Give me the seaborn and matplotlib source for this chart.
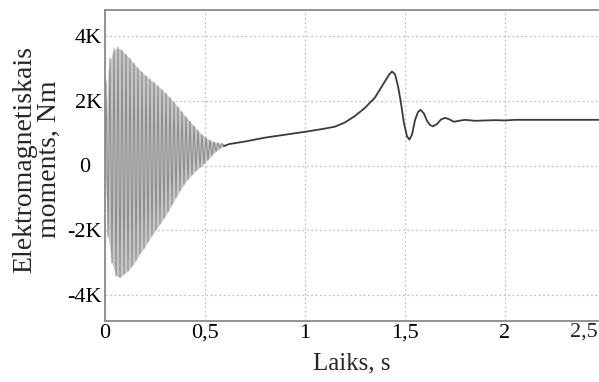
import numpy as np
import pandas as pd
import matplotlib
matplotlib.use("Agg")
import matplotlib.pyplot as plt
import matplotlib.transforms as mtransforms
import seaborn as sns

# Start-up transient: torque peaks (kNm) of the 50 Hz oscillation
upper_peaks = [2.6, 3.3, 3.6, 3.65, 3.55, 3.42, 3.3, 3.15, 3.0, 2.88,
               2.76, 2.66, 2.56, 2.45, 2.34, 2.22, 2.1, 1.95, 1.8, 1.65,
               1.5, 1.36, 1.22, 1.08, 0.95, 0.86, 0.78, 0.73, 0.7, 0.68]
lower_peaks = [-2.2, -3.0, -3.4, -3.45, -3.35, -3.25, -3.1, -2.92, -2.72, -2.55,
               -2.35, -2.15, -1.98, -1.8, -1.62, -1.42, -1.2, -0.98, -0.77, -0.58,
               -0.42, -0.28, -0.15, -0.05, 0.05, 0.18, 0.32, 0.44, 0.53, 0.6]
period = 0.02

# Acceleration and settling part (s, kNm)
t_run = [0.62, 0.7, 0.8, 0.9, 1.0, 1.1, 1.15, 1.2, 1.25, 1.3, 1.35, 1.39, 1.42,
         1.435, 1.45, 1.465, 1.478, 1.495, 1.51, 1.522, 1.535, 1.55, 1.565,
         1.578, 1.595, 1.61, 1.625, 1.64, 1.66, 1.68, 1.70, 1.72, 1.745, 1.77,
         1.8, 1.85, 1.9, 1.95, 2.0, 2.05, 2.47]
m_run = [0.66, 0.74, 0.86, 0.95, 1.04, 1.14, 1.2, 1.33, 1.53, 1.78, 2.1, 2.5, 2.8,
         2.9, 2.82, 2.45, 2.0, 1.3, 0.9, 0.8, 0.95, 1.4, 1.65,
         1.72, 1.6, 1.38, 1.25, 1.21, 1.28, 1.42, 1.47, 1.43, 1.35, 1.38,
         1.41, 1.38, 1.39, 1.40, 1.39, 1.41, 1.41]

x_ticks = [0, 0.5, 1, 1.5, 2]
x_labels = ["0", "0,5", "1", "1,5", "2"]
y_ticks = [-4000, -2000, 0, 2000, 4000]
y_labels = ["-4K", "-2K", "0", "2K", "4K"]

# Oscillating segment: alternate peaks and troughs
t_hi = [period * k + period / 4 for k in range(len(upper_peaks))]
t_lo = [period * k + 3 * period / 4 for k in range(len(lower_peaks))]
t_osc = [0.0]
m_osc = [0.0]
for th, hi, tl, lo in zip(t_hi, upper_peaks, t_lo, lower_peaks):
    t_osc += [th, tl]
    m_osc += [hi, lo]

osc = pd.DataFrame({"t": t_osc, "m": np.array(m_osc) * 1000})
run = pd.DataFrame({"t": [t_osc[-1]] + t_run,
                    "m": np.array([m_osc[-1]] + m_run) * 1000})

sns.set_style("white")
plt.rcParams["font.family"] = ["Liberation Serif", "DejaVu Serif"]

W, H = 599, 382
fig = plt.figure(figsize=(W / 100, H / 100), dpi=100)
ax = fig.add_axes([105 / W, 1 - 321 / H, 1 - 105 / W, (321 - 10) / H])

# shaded band spanned by the fast oscillation (between its two envelopes)
band_t = [0.0] + t_lo
band_hi = np.interp(band_t, [0.0] + t_hi, [0.0] + upper_peaks) * 1000
band_lo = np.array([0.0] + lower_peaks) * 1000
ax.fill_between(band_t, band_hi, band_lo, color="#c6c6c6", lw=0, zorder=1)

sns.lineplot(data=osc, x="t", y="m", ax=ax, color="#8e8e8e", lw=0.8,
             sort=False, zorder=2)
sns.lineplot(data=run, x="t", y="m", ax=ax, color="#3a3a3a", lw=1.3,
             sort=False, zorder=3)

ax.set_xlim(0, (W - 105) / 200)
ax.set_ylim(-4800, 4800)
ax.set_xticks(x_ticks)
ax.set_xticklabels(x_labels)
ax.set_yticks(y_ticks)
ax.set_yticklabels(y_labels)
ax.grid(True, color="#c2c2c2", linestyle=(0, (1.5, 2)), linewidth=0.9, zorder=0)
ax.set_axisbelow(True)
ax.tick_params(axis="both", labelsize=16, colors="black", length=0, pad=2)
for side in ["left", "bottom", "top"]:
    ax.spines[side].set_visible(True)
    ax.spines[side].set_color("#8a8a8a")
    ax.spines[side].set_linewidth(1.3)
ax.spines["right"].set_visible(False)

# the zero label sits a little further left
for lbl in ax.get_yticklabels():
    if lbl.get_text() == "0":
        lbl.set_transform(lbl.get_transform() +
                          mtransforms.ScaledTranslation(-0.12, 0, fig.dpi_scale_trans))

ax.text(0.997, -0.006, "2,5", transform=ax.transAxes, ha="right", va="top",
        fontsize=16)

ax.set_xlabel("Laiks, s", fontsize=18, labelpad=7)
ax.set_ylabel("Elektromagnetiskais\nmoments, Nm", fontsize=20,
              linespacing=0.98)
ax.yaxis.set_label_coords(-0.088, 0.52)

fig.savefig("out.png", dpi=100)
